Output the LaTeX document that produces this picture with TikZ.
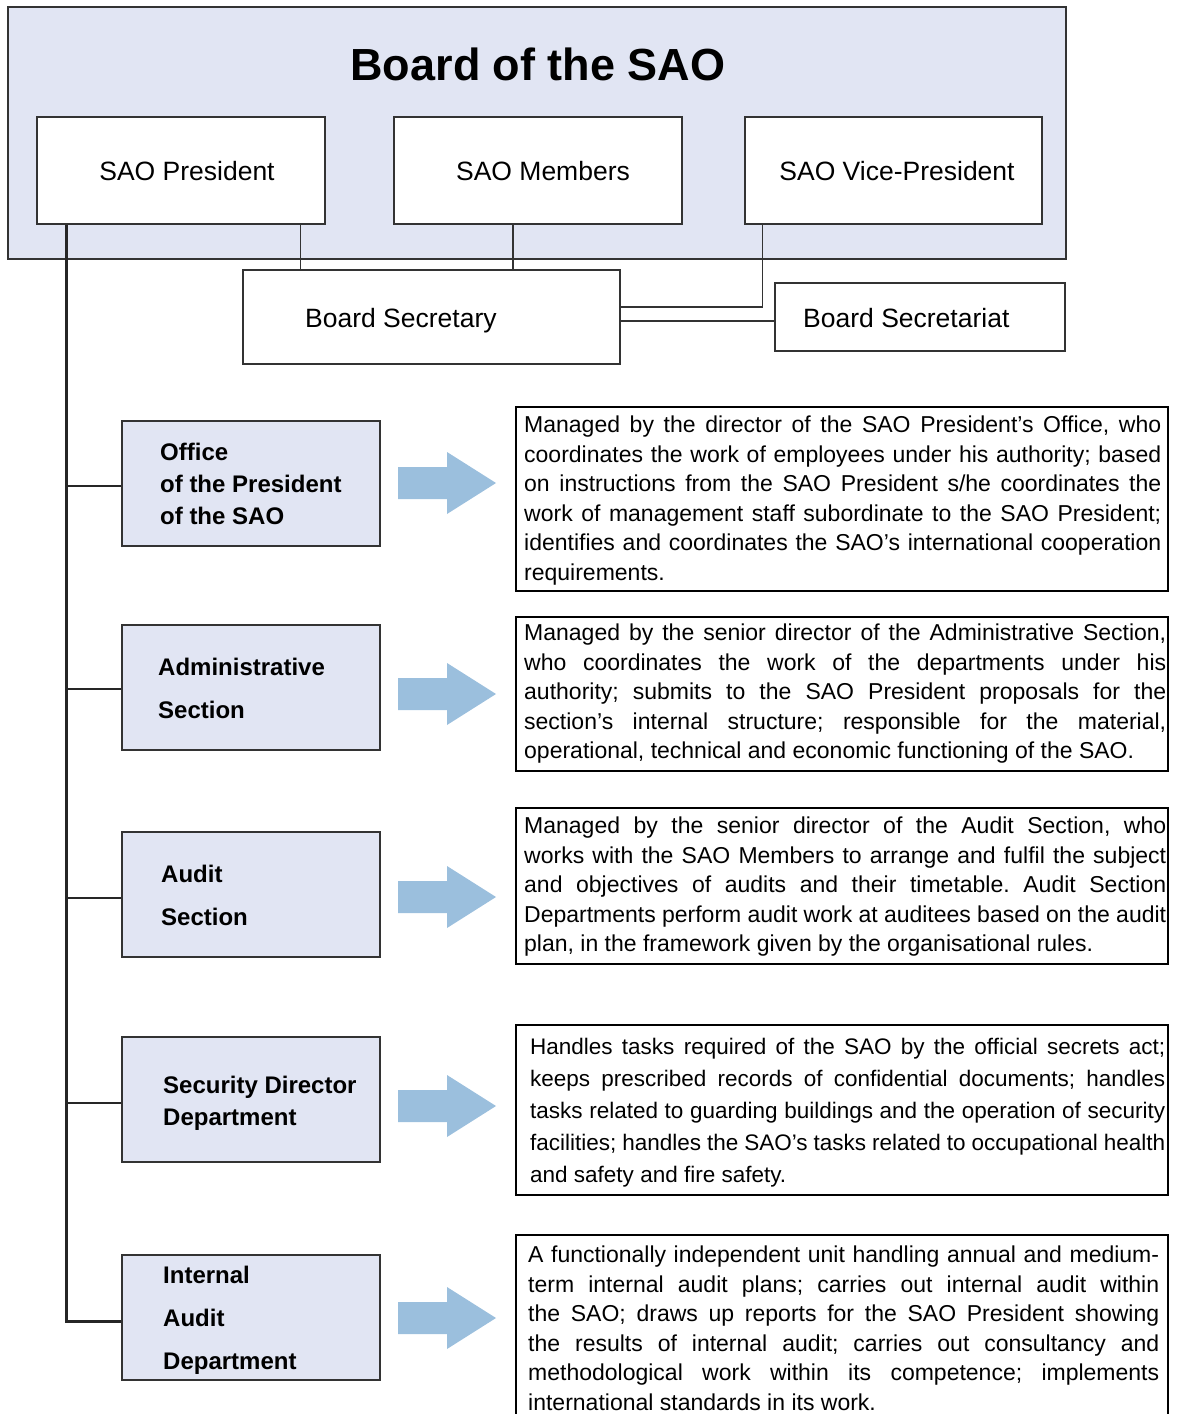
\documentclass[tikz,border=0pt]{standalone}
\usepackage{fontspec}
\setmainfont{Liberation Sans}
\usetikzlibrary{positioning}
\definecolor{boardc}{HTML}{E1E5F3}
\definecolor{unitc}{HTML}{E1E5F3}
\definecolor{arrowc}{HTML}{9BBFDD}
\definecolor{linec}{HTML}{333333}
\tolerance=9999
\hyphenpenalty=10000
\frenchspacing
\newcommand{\descfont}{\fontsize{23}{29.5}\selectfont}
\newcommand{\descfontb}{\fontsize{22.5}{32}\selectfont}
\begin{document}
\begin{tikzpicture}[x=1pt,y=-1pt,
  topbox/.style={draw=linec, line width=1.3, fill=white, inner sep=0},
  toptext/.style={inner sep=0, font=\fontsize{26.5}{32}\selectfont},
  plainbox/.style={draw=linec, line width=1.3, fill=white, inner sep=0},
  unitbox/.style={draw=linec, line width=1.3, fill=unitc, inner sep=0, minimum width=258, minimum height=125},
  unittext/.style={anchor=north west, inner sep=0, align=left, font=\bfseries\fontsize{24}{32}\selectfont},
  unittextw/.style={anchor=north west, inner sep=0, align=left, font=\bfseries\fontsize{24}{43}\selectfont},
  descbox/.style={draw=black, line width=2, fill=white, inner sep=0, minimum width=652},
  desctext/.style={anchor=north west, inner sep=0, align=justify, font=\descfont},
  conn/.style={draw=linec, line width=1.1},
  trunk/.style={draw=black!85, line width=2.5},
  blockarrow/.style={fill=arrowc, draw=none}
]
\useasboundingbox (0,0) rectangle (1178,1414);
\clip (0,0) rectangle (1178,1414);

% Board
\node[draw=linec, line width=1.3, fill=boardc, minimum width=1058, minimum height=252, inner sep=0] (board) at (537,133) {};
\node[font=\bfseries\fontsize{45}{54}\selectfont, inner sep=0] (title) at (538,64) {Board of the SAO};
\node[topbox, minimum width=288, minimum height=107] (pres) at (181,170.5) {};
\node[topbox, minimum width=288, minimum height=107] (mem) at (538,170.5) {};
\node[topbox, minimum width=297, minimum height=107] (vp) at (893.5,170.5) {};
\node[toptext] (prest) at (187,171) {SAO President};
\node[toptext] (memt) at (543,171) {SAO Members};
\node[toptext] (vpt) at (897,171) {SAO Vice-President};

% Secretary / Secretariat
\node[plainbox, minimum width=377, minimum height=94] (sec) at (431.5,317) {};
\node[anchor=base west, inner sep=0, font=\fontsize{26.5}{32}\selectfont] (sectext) at (305,327.5) {Board Secretary};
\node[plainbox, minimum width=290, minimum height=68] (sst) at (920,317) {};
\node[anchor=base west, inner sep=0, font=\fontsize{26.5}{32}\selectfont] (ssttext) at (803,327.5) {Board Secretariat};

\coordinate (p1) at ([xshift=-25pt]pres.south east);
\coordinate (m1) at ([xshift=-25pt]mem.south);
\coordinate (v1) at ([xshift=18pt]vp.south west);
\coordinate (s1) at ([yshift=10pt]sec.east);
\coordinate (s2) at ([yshift=-4pt]sec.east);
\draw[conn] (p1) -- (p1 |- sec.north);
\draw[conn] (m1) -- (m1 |- sec.north);
\draw[conn] (v1) |- (s1);
\draw[conn] (s2) -- (s2 -| sst.west);

% Units
\node[unitbox] (u1) at (251,483.5) {};
\node[unitbox] (u2) at (251,687.5) {};
\node[unitbox] (u3) at (251,894.5) {};
\node[unitbox] (u4) at (251,1099.5) {};
\node[unitbox] (u5) at (251,1317.5) {};
\node[unittext] (u1t) at (160,443.2) {Office\\of the President\\of the SAO};
\node[unittextw] (u2t) at (158,658.2) {Administrative\\Section};
\node[unittextw] (u3t) at (161,865.2) {Audit\\Section};
\node[unittext] (u4t) at (163,1076.2) {Security Director\\Department};
\node[unittextw] (u5t) at (163,1266.2) {Internal\\Audit\\Department};

% Trunk
\coordinate (t0) at ([xshift=30pt]pres.south west);
\draw[trunk] (t0) |- ([yshift=-4pt]u5.west);
\draw[trunk] (t0 |- u1.west) ++(0,2.5) -- ([yshift=-2.5pt]u1.west);
\draw[trunk] (t0 |- u2.west) ++(0,1.5) -- ([yshift=-1.5pt]u2.west);
\draw[trunk] (t0 |- u3.west) ++(0,3.5) -- ([yshift=-3.5pt]u3.west);
\draw[trunk] (t0 |- u4.west) ++(0,3.5) -- ([yshift=-3.5pt]u4.west);

% Arrows
\coordinate (a1) at (398,483);
\coordinate (a2) at (398,694);
\coordinate (a3) at (398,897);
\coordinate (a4) at (398,1106);
\coordinate (a5) at (398,1318);
\foreach \a in {a1,a2,a3,a4,a5}{
  \fill[blockarrow] (\a) ++(0,-16) -- ++(49,0) -- ++(0,-15) -- ++(49,31) -- ++(-49,31) -- ++(0,-15) -- ++(-49,0) -- cycle;
}

% Description boxes
\node[descbox, minimum height=184] (d1) at (842,499) {};
\node[descbox, minimum height=154] (d2) at (842,694) {};
\node[descbox, minimum height=156] (d3) at (842,886) {};
\node[descbox, minimum height=170] (d4) at (842,1110) {};
\node[descbox, minimum height=205] (d5) at (842,1337.5) {};

\node[desctext, text width=637] (d1t) at (524,415.7) {\noindent Managed by the director of the SAO President’s Office, who\linebreak
coordinates the work of employees under his authority; based\linebreak
on instructions from the SAO President s/he coordinates the\linebreak
work of management staff subordinate to the SAO President;\linebreak
identifies and coordinates the SAO’s international cooperation\linebreak
requirements.};

\node[desctext, text width=642] (d2t) at (524,623.7) {\noindent Managed by the senior director of the Administrative Section,\linebreak
who coordinates the work of the departments under his\linebreak
authority; submits to the SAO President proposals for the\linebreak
section’s internal structure; responsible for the material,\linebreak
operational, technical and economic functioning of the SAO.};

\node[desctext, text width=642] (d3t) at (524,816.7) {\noindent Managed by the senior director of the Audit Section, who\linebreak
works with the SAO Members to arrange and fulfil the subject\linebreak
and objectives of audits and their timetable. Audit Section\linebreak
Departments perform audit work at auditees based on the audit\linebreak
plan, in the framework given by the organisational rules.};

\node[desctext, text width=635, font=\descfontb] (d4t) at (530,1037.9) {\noindent Handles tasks required of the SAO by the official secrets act;\linebreak
keeps prescribed records of confidential documents; handles\linebreak
tasks related to guarding buildings and the operation of security\linebreak
facilities; handles the SAO’s tasks related to occupational health\linebreak
and safety and fire safety.};

\node[desctext, text width=631] (d5t) at (528,1245.7) {\noindent A functionally independent unit handling annual and medium-\linebreak
term internal audit plans; carries out internal audit within\linebreak
the SAO; draws up reports for the SAO President showing\linebreak
the results of internal audit; carries out consultancy and\linebreak
methodological work within its competence; implements\linebreak
international standards in its work.};

\end{tikzpicture}
\end{document}
